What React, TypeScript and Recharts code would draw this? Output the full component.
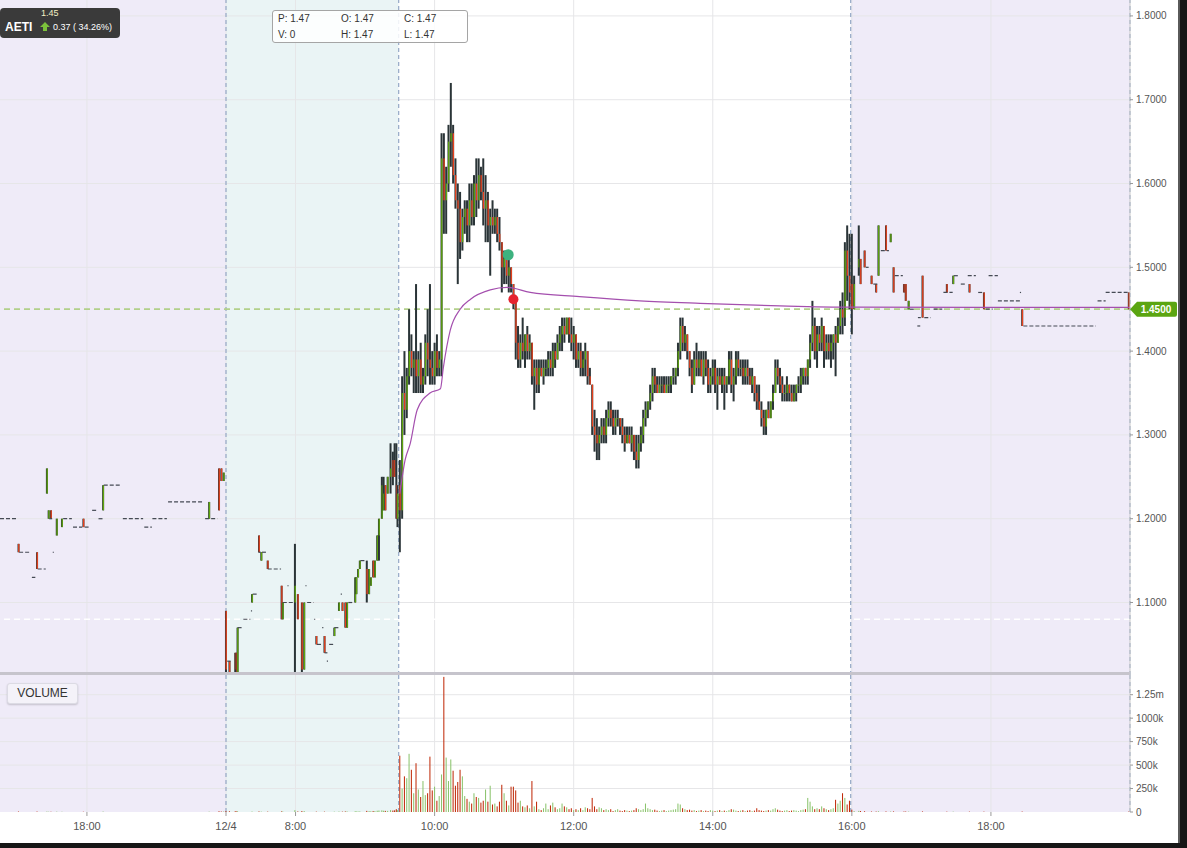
import React from 'react';
import { ComposedChart, Bar, Line, XAxis, YAxis, ReferenceArea, ReferenceLine, ReferenceDot } from 'recharts';

const FONT = '"Liberation Sans", Arial, Helvetica, sans-serif';

// chart minutes: 0 = 16:45 previous day, overnight gap removed (12/4 starts 7:00 at t=195)
const sessionStarts = [0, 195, 344, 734];
const sessionEnds = [195, 344, 734, 975];
const sessionFills = ['#efebf8', '#eaf4f5', '#ffffff', '#efebf8'];
const sessionDividers = [195, 344, 734, 975];

const timeTicks = [75, 195, 255, 375, 495, 615, 735, 855];
const timeLabels = ['18:00', '12/4', '8:00', '10:00', '12:00', '14:00', '16:00', '18:00'];
const priceTicks = [1.1, 1.2, 1.3, 1.4, 1.5, 1.6, 1.7, 1.8];
const volumeTicks = [0, 250, 500, 750, 1000, 1250];
const priceDomain = [1.0135, 1.819];
const volumeDomain = [0, 1460];
const prevClose = 1.08;
const lastPrice = 1.45;
const buyMarker = { t: 438.5, p: 1.515 };
const sellMarker = { t: 443, p: 1.462 };

// regular session 2-minute candles [open, high, low, close], from 9:30
const regularStart = 345;
const regularStep = 2;
const regularOHLC: number[][] = [
  [1.24,1.27,1.16,1.21],[1.21,1.37,1.20,1.35],[1.35,1.40,1.30,1.33],[1.33,1.38,1.32,1.37],[1.37,1.45,1.36,1.40],
  [1.40,1.42,1.37,1.38],[1.38,1.40,1.35,1.39],[1.39,1.48,1.35,1.37],[1.37,1.40,1.35,1.39],[1.39,1.41,1.35,1.36],
  [1.36,1.38,1.35,1.37],[1.37,1.42,1.36,1.41],[1.41,1.45,1.37,1.39],[1.39,1.48,1.36,1.38],[1.38,1.40,1.36,1.37],
  [1.37,1.41,1.36,1.40],[1.40,1.42,1.37,1.38],[1.38,1.40,1.37,1.39],[1.39,1.66,1.37,1.63],[1.63,1.66,1.54,1.58],
  [1.58,1.62,1.54,1.60],[1.60,1.67,1.59,1.65],[1.65,1.72,1.62,1.66],[1.66,1.67,1.60,1.61],[1.61,1.63,1.57,1.58],
  [1.58,1.60,1.48,1.57],[1.57,1.59,1.51,1.53],[1.53,1.57,1.52,1.56],[1.56,1.58,1.54,1.57],[1.57,1.58,1.53,1.55],
  [1.55,1.60,1.53,1.58],[1.58,1.60,1.55,1.56],[1.56,1.61,1.55,1.60],[1.60,1.63,1.56,1.58],[1.58,1.63,1.57,1.61],
  [1.61,1.62,1.58,1.59],[1.59,1.63,1.55,1.57],[1.57,1.61,1.53,1.58],[1.58,1.59,1.53,1.55],[1.55,1.57,1.49,1.56],
  [1.56,1.58,1.54,1.55],[1.55,1.57,1.54,1.56],[1.56,1.57,1.53,1.54],[1.54,1.56,1.52,1.53],[1.53,1.53,1.47,1.50],
  [1.50,1.52,1.48,1.51],[1.51,1.52,1.48,1.49],[1.49,1.51,1.47,1.50],[1.50,1.50,1.47,1.48],[1.48,1.48,1.45,1.46],
  [1.46,1.46,1.39,1.41],[1.41,1.43,1.38,1.39],[1.39,1.42,1.38,1.41],[1.41,1.44,1.39,1.40],[1.40,1.42,1.38,1.42],
  [1.42,1.43,1.39,1.40],[1.40,1.42,1.39,1.41],[1.41,1.41,1.36,1.37],[1.37,1.39,1.33,1.38],[1.38,1.39,1.35,1.36],
  [1.36,1.39,1.35,1.38],[1.38,1.39,1.37,1.37],[1.37,1.39,1.36,1.38],[1.38,1.39,1.37,1.38],[1.38,1.40,1.37,1.39],
  [1.39,1.40,1.37,1.38],[1.38,1.41,1.37,1.40],[1.40,1.41,1.38,1.39],[1.39,1.42,1.39,1.41],[1.41,1.43,1.40,1.42],
  [1.42,1.44,1.40,1.43],[1.43,1.44,1.41,1.42],[1.42,1.44,1.42,1.44],[1.44,1.44,1.41,1.42],[1.42,1.44,1.40,1.41],
  [1.41,1.43,1.39,1.42],[1.42,1.42,1.38,1.39],[1.39,1.41,1.38,1.40],[1.40,1.41,1.37,1.38],[1.38,1.40,1.37,1.39],
  [1.39,1.41,1.37,1.40],[1.40,1.40,1.36,1.37],[1.37,1.38,1.36,1.36],[1.36,1.36,1.30,1.31],[1.31,1.33,1.28,1.30],
  [1.30,1.32,1.27,1.29],[1.29,1.31,1.27,1.30],[1.30,1.32,1.29,1.31],[1.31,1.32,1.29,1.30],[1.30,1.33,1.29,1.32],
  [1.32,1.34,1.31,1.33],[1.33,1.34,1.31,1.32],[1.32,1.33,1.30,1.31],[1.31,1.33,1.30,1.32],[1.32,1.33,1.31,1.32],
  [1.32,1.32,1.30,1.31],[1.31,1.32,1.29,1.30],[1.30,1.31,1.28,1.29],[1.29,1.31,1.29,1.30],[1.30,1.31,1.29,1.29],
  [1.29,1.31,1.28,1.30],[1.30,1.30,1.27,1.28],[1.28,1.30,1.26,1.27],[1.27,1.30,1.26,1.29],[1.29,1.31,1.28,1.30],
  [1.30,1.33,1.29,1.32],[1.32,1.34,1.31,1.33],[1.33,1.34,1.32,1.34],[1.34,1.36,1.33,1.35],[1.35,1.38,1.34,1.37],
  [1.37,1.38,1.35,1.36],[1.36,1.37,1.35,1.35],[1.35,1.37,1.35,1.36],[1.36,1.37,1.35,1.36],[1.36,1.37,1.35,1.35],
  [1.35,1.37,1.35,1.36],[1.36,1.37,1.35,1.36],[1.36,1.37,1.35,1.37],[1.37,1.38,1.36,1.37],[1.37,1.38,1.36,1.38],
  [1.38,1.41,1.37,1.40],[1.40,1.44,1.39,1.43],[1.43,1.44,1.40,1.41],[1.41,1.43,1.40,1.42],[1.42,1.42,1.39,1.40],
  [1.40,1.40,1.37,1.38],[1.38,1.39,1.35,1.36],[1.36,1.40,1.36,1.39],[1.39,1.41,1.37,1.38],[1.38,1.40,1.37,1.39],
  [1.39,1.40,1.37,1.37],[1.37,1.40,1.36,1.39],[1.39,1.40,1.37,1.38],[1.38,1.39,1.35,1.36],[1.36,1.38,1.35,1.37],
  [1.37,1.39,1.36,1.38],[1.38,1.39,1.35,1.36],[1.36,1.38,1.33,1.37],[1.37,1.38,1.36,1.36],[1.36,1.38,1.35,1.37],
  [1.37,1.38,1.33,1.36],[1.36,1.37,1.35,1.37],[1.37,1.40,1.36,1.39],[1.39,1.40,1.35,1.36],[1.36,1.38,1.34,1.37],
  [1.37,1.40,1.36,1.39],[1.39,1.40,1.37,1.38],[1.38,1.39,1.37,1.38],[1.38,1.39,1.36,1.37],[1.37,1.39,1.36,1.38],
  [1.38,1.39,1.36,1.37],[1.37,1.38,1.36,1.36],[1.36,1.38,1.35,1.37],[1.37,1.37,1.34,1.35],[1.35,1.36,1.33,1.34],
  [1.34,1.36,1.33,1.33],[1.33,1.34,1.31,1.32],[1.32,1.33,1.30,1.31],[1.31,1.33,1.30,1.33],[1.33,1.34,1.32,1.32],
  [1.32,1.34,1.32,1.34],[1.34,1.36,1.33,1.35],[1.35,1.39,1.35,1.38],[1.38,1.39,1.36,1.37],[1.37,1.38,1.35,1.36],
  [1.36,1.37,1.34,1.35],[1.35,1.36,1.34,1.35],[1.35,1.37,1.34,1.36],[1.36,1.36,1.34,1.35],[1.35,1.36,1.34,1.34],
  [1.34,1.36,1.34,1.35],[1.35,1.36,1.34,1.36],[1.36,1.37,1.35,1.36],[1.36,1.38,1.35,1.37],[1.37,1.38,1.36,1.38],
  [1.38,1.38,1.36,1.37],[1.37,1.39,1.36,1.39],[1.39,1.42,1.38,1.41],[1.41,1.46,1.40,1.43],[1.43,1.44,1.39,1.40],
  [1.40,1.43,1.38,1.42],[1.42,1.43,1.40,1.41],[1.41,1.44,1.40,1.43],[1.43,1.43,1.38,1.40],[1.40,1.42,1.39,1.41],
  [1.41,1.42,1.39,1.40],[1.40,1.42,1.38,1.41],[1.41,1.42,1.39,1.42],[1.42,1.43,1.37,1.41],[1.41,1.44,1.41,1.43],
  [1.43,1.46,1.42,1.45],[1.45,1.47,1.42,1.44],[1.44,1.53,1.43,1.52],[1.52,1.55,1.46,1.49],[1.49,1.54,1.45,1.47],
];

// regular session volume per candle, thousands of shares
const regularVolume: number[] = [
  600,250,380,360,620,450,200,520,240,160,330,180,200,590,230,270,120,170,400,1440,
  580,330,560,440,280,320,450,380,170,140,110,90,200,160,150,100,120,240,110,280,
  80,90,60,110,290,200,120,70,270,270,230,100,120,60,50,70,40,330,60,110,
  30,20,40,90,30,70,100,50,30,40,90,60,50,30,40,20,30,20,40,20,
  50,40,30,150,60,30,50,40,20,30,20,30,10,20,30,15,10,20,15,10,
  15,20,40,30,20,30,90,40,30,20,25,15,10,15,20,10,15,20,25,30,
  90,80,40,30,20,25,15,20,10,15,20,10,15,10,20,15,10,15,20,10,
  15,10,20,30,25,15,10,15,20,10,15,20,10,15,40,20,15,10,15,20,
  15,30,40,25,15,10,15,20,10,15,20,15,10,20,25,30,150,110,60,30,
  40,30,60,40,30,20,30,40,130,90,120,200,150,80,120,
];

// extended-hours candles [t, open, high, low, close, volume(k)]
const extendedCandles: number[][] = [
  [16,1.17,1.17,1.16,1.16,5],[32,1.16,1.16,1.14,1.14,5],[40.5,1.23,1.26,1.23,1.26,5],[42,1.20,1.21,1.20,1.21,3],
  [44,1.21,1.21,1.20,1.20,3],[49,1.18,1.20,1.18,1.20,4],[53.5,1.19,1.20,1.19,1.20,3],[72,1.20,1.20,1.19,1.19,3],
  [89,1.21,1.24,1.21,1.24,5],[180.5,1.20,1.22,1.20,1.22,4],[189,1.26,1.26,1.21,1.21,8],[191,1.26,1.26,1.245,1.245,5],
  [193,1.245,1.255,1.245,1.255,5],
  [195,1.09,1.09,1.015,1.02,10],[198,1.03,1.03,1.015,1.015,8],[203,1.04,1.04,1.015,1.02,8],[204,1.04,1.04,1.015,1.015,6],
  [205,1.015,1.07,1.015,1.07,8],[217.5,1.10,1.11,1.10,1.11,5],[223.5,1.18,1.18,1.16,1.16,6],[225.5,1.15,1.16,1.15,1.16,4],
  [231,1.15,1.15,1.14,1.14,4],[243,1.12,1.12,1.08,1.08,6],[244,1.08,1.10,1.08,1.10,5],[254.5,1.10,1.17,1.015,1.12,20],
  [257,1.11,1.11,1.08,1.08,6],[260.5,1.10,1.10,1.015,1.02,10],[262.5,1.02,1.10,1.02,1.10,10],[273,1.06,1.06,1.05,1.05,4],
  [280,1.06,1.06,1.04,1.04,4],[288.5,1.06,1.07,1.06,1.07,4],[292.5,1.09,1.10,1.09,1.10,5],[295.5,1.10,1.10,1.09,1.09,4],
  [298,1.10,1.10,1.07,1.07,6],[299.5,1.07,1.10,1.07,1.10,6],[306.5,1.10,1.13,1.10,1.13,8],[307.5,1.11,1.13,1.11,1.13,6],
  [309,1.13,1.14,1.13,1.14,6],[310.5,1.14,1.15,1.14,1.15,6],[316.5,1.14,1.15,1.10,1.11,12],[318.5,1.11,1.14,1.11,1.14,10],
  [320,1.12,1.13,1.12,1.13,8],[322,1.15,1.15,1.13,1.13,10],[323.5,1.13,1.15,1.13,1.15,10],[325.5,1.15,1.18,1.15,1.18,14],
  [327,1.18,1.20,1.15,1.20,16],[329.5,1.20,1.25,1.20,1.24,18],[331,1.21,1.25,1.21,1.23,14],[332.5,1.24,1.24,1.21,1.21,12],
  [334.5,1.23,1.25,1.23,1.25,12],[337,1.25,1.29,1.23,1.26,20],[339,1.27,1.28,1.24,1.25,16],[340.5,1.27,1.29,1.25,1.25,18],
  [342,1.24,1.29,1.20,1.20,30],[343,1.20,1.24,1.19,1.23,20],
  [735,1.48,1.54,1.42,1.45,25],[737,1.45,1.49,1.45,1.48,10],[741,1.50,1.55,1.49,1.51,12],[742.5,1.51,1.51,1.48,1.48,10],
  [746,1.52,1.52,1.50,1.50,8],[752,1.49,1.49,1.48,1.48,5],[756,1.48,1.48,1.47,1.47,5],[758,1.49,1.55,1.49,1.55,8],
  [764.5,1.55,1.55,1.52,1.52,6],[768.5,1.53,1.54,1.53,1.54,5],[771,1.50,1.50,1.47,1.47,6],[780,1.48,1.48,1.47,1.47,5],
  [781.5,1.48,1.48,1.46,1.46,5],[784,1.45,1.46,1.45,1.46,4],[796,1.49,1.49,1.44,1.44,6],[817,1.48,1.48,1.47,1.47,4],
  [822.5,1.48,1.49,1.48,1.49,4],[836.5,1.48,1.48,1.47,1.47,4],[849,1.47,1.47,1.45,1.45,4],[882,1.45,1.45,1.43,1.43,5],
  [974,1.47,1.47,1.45,1.45,5],
];

// unchanged-price runs [tStart, tEnd, price]
const flatRuns: number[][] = [
  [0,15.5,1.20],[16.5,25.5,1.16],[27.5,30.5,1.13],[32.5,39.5,1.14],[45.5,46.5,1.16],[42.5,45,1.20],[54.5,62,1.20],
  [63,71,1.19],[73,78,1.19],[79.5,84.5,1.21],[85,89,1.20],[89.5,105,1.24],[106,123.5,1.20],[124.5,131,1.19],
  [131.5,144,1.20],[145,175.5,1.22],[177,187.5,1.20],
  [196,199,1.03],[205,209,1.07],[210,216,1.08],[216.5,217.5,1.09],[218,222,1.11],[223,225,1.16],[226,230.5,1.16],
  [231,242.5,1.14],[244,253,1.10],[248,249,1.12],[263.5,264.5,1.12],[265,270.5,1.10],[271,272,1.08],[273.5,278,1.05],
  [278,279,1.07],[280,282.5,1.04],[282,283,1.03],[284,287.5,1.05],[288.5,292,1.07],[294,295,1.11],[300.5,305,1.10],
  [311,315,1.15],
  [747,749.5,1.50],[753.5,757,1.48],[760,767,1.52],[772,779,1.49],[785,790,1.45],[792,794.5,1.44],[791.5,794,1.43],
  [797.5,803,1.44],[805.5,813,1.45],[814,822,1.47],[823,827,1.49],[829,834,1.48],[835,842,1.49],[844,849,1.47],
  [850.5,856.5,1.45],[853,861,1.49],[861,880.5,1.46],[880,881,1.47],[883,945.5,1.43],[947,954,1.46],[954,973.5,1.47],
];

// VWAP readings [t, price]
const vwapPoints: number[][] = [
  [345,1.23],[349.5,1.27],[354,1.29],[360,1.33],[371,1.35],[380,1.355],[382.5,1.38],[388.5,1.425],[397,1.45],
  [406,1.462],[423,1.473],[437.5,1.476],[457.5,1.47],[500,1.465],[552,1.46],[604,1.457],[673,1.454],[734,1.4525],[975,1.4522],
];

const candles = [
  ...extendedCandles.map(([t, o, h, l, c, v]) => ({ t, o, h, l, c, v })),
  ...regularOHLC.map(([o, h, l, c], i) => ({ t: regularStart + i * regularStep, o, h, l, c, v: regularVolume[i] })),
].sort((a, b) => a.t - b.t);

const vwapData = vwapPoints.map(([t, p]) => ({ t, p }));

const WICK = '#2a3437';
const UP = '#5fa60c';
const DOWN = '#e8401c';
const VOL_UP = '#8cc46e';
const VOL_DOWN = '#c12d0c';
const GRID = '#e6e6e8';
const DIVIDER = '#94a7c6';

const CandleShape = (props: any) => {
  const { x, y, width, height, payload } = props;
  if (!payload || x == null || y == null) return null;
  const top = Math.min(y, y + height);
  const hh = Math.abs(height);
  const cx = x + width / 2;
  const span = payload.h - payload.l;
  const k = span > 0 ? hh / span : 0;
  const yo = top + (payload.h - payload.o) * k;
  const yc = top + (payload.h - payload.c) * k;
  const bodyTop = Math.min(yo, yc);
  const bodyH = Math.max(Math.abs(yc - yo), 1);
  const up = payload.c >= payload.o;
  return (
    <g>
      <rect x={cx - 1} y={top} width={2} height={Math.max(hh, 1)} fill={WICK} />
      <rect x={cx - 0.4} y={bodyTop} width={1.3} height={bodyH} fill={up ? UP : DOWN} />
    </g>
  );
};

const VolumeShape = (props: any) => {
  const { x, y, width, height, payload } = props;
  if (!payload || !height) return null;
  const top = Math.min(y, y + height);
  return <rect x={x} y={top} width={width} height={Math.abs(height)} fill={payload.c >= payload.o ? VOL_UP : VOL_DOWN} />;
};

const PriceTag = (props: any) => {
  const { cx, cy } = props;
  if (cx == null || cy == null) return null;
  const d = `M${cx},${cy} L${cx + 7},${cy - 7.5} L${cx + 45},${cy - 7.5} Q${cx + 47},${cy - 7.5} ${cx + 47},${cy - 5.5} L${cx + 47},${cy + 5.5} Q${cx + 47},${cy + 7.5} ${cx + 45},${cy + 7.5} L${cx + 7},${cy + 7.5} Z`;
  return (
    <g>
      <path d={d} fill="#5ba511" />
      <text x={cx + 26} y={cy + 3.5} textAnchor="middle" fill="#ffffff" fontSize={10} fontWeight="bold" fontFamily={FONT}>
        {lastPrice.toFixed(4)}
      </text>
    </g>
  );
};

const tickStyle = { fontSize: 10, fill: '#555', fontFamily: FONT };

export default function App() {
  return (
    <div style={{ position: 'absolute', left: 0, top: 0, width: 1187, height: 848, background: '#161616', fontFamily: FONT }}>
      <div style={{ position: 'absolute', left: 0, top: 0, width: 1178, height: 843, background: '#ffffff', borderRight: '2px solid #5a5a5a' }}>
        <div style={{ position: 'absolute', left: 0, top: 0 }}>
          <ComposedChart width={1180} height={675} data={candles} margin={{ top: 0, right: 0, bottom: 0, left: 0 }}>
            <XAxis dataKey="t" type="number" domain={[0, 975]} hide allowDataOverflow />
            <YAxis
              orientation="right"
              type="number"
              domain={priceDomain}
              ticks={priceTicks}
              allowDataOverflow
              width={50}
              tickFormatter={(v: number) => v.toFixed(4)}
              tick={tickStyle}
              tickSize={3}
              tickMargin={3}
              axisLine={{ stroke: '#c8c8c8' }}
              tickLine={{ stroke: '#999' }}
            />
            {sessionStarts.map((s, i) => (
              <ReferenceArea key={'bg' + i} x1={s} x2={sessionEnds[i]} fill={sessionFills[i]} fillOpacity={1} stroke="none" zIndex={-300} />
            ))}
            {priceTicks.map((p) => (
              <ReferenceLine key={'gy' + p} y={p} stroke={GRID} strokeWidth={1} zIndex={-250} />
            ))}
            {timeTicks.map((t) => (
              <ReferenceLine key={'gx' + t} x={t} stroke={GRID} strokeWidth={1} zIndex={-250} />
            ))}
            <ReferenceLine y={prevClose} stroke="#ffffff" strokeDasharray="6 4" strokeWidth={1.5} zIndex={-200} />
            {sessionDividers.map((t) => (
              <ReferenceLine key={'dv' + t} x={t} stroke={DIVIDER} strokeDasharray="4 3" strokeWidth={1.2} zIndex={-150} />
            ))}
            <ReferenceLine y={lastPrice} stroke="#b2d08a" strokeDasharray="6 4" strokeWidth={1.8} zIndex={-100} />
            {flatRuns.map(([t0, t1, p], i) => (
              <ReferenceLine
                key={'fl' + i}
                segment={[{ x: t0, y: p }, { x: t1, y: p }]}
                stroke="#454a54"
                strokeDasharray="4 2"
                strokeWidth={1.2}
              />
            ))}
            <Bar dataKey={(d: any) => [d.l, d.h]} barSize={2} shape={CandleShape} isAnimationActive={false} />
            <Line data={vwapData} dataKey="p" type="monotone" stroke="#a44fae" strokeWidth={1.2} dot={false} activeDot={false} isAnimationActive={false} />
            <ReferenceDot x={buyMarker.t} y={buyMarker.p} r={5.5} fill="#3db27f" stroke="none" />
            <ReferenceDot x={sellMarker.t} y={sellMarker.p} r={5} fill="#e5232f" stroke="none" />
            <ReferenceDot x={975} y={lastPrice} r={1} shape={PriceTag} />
          </ComposedChart>
        </div>
        <div style={{ position: 'absolute', left: 0, top: 675 }}>
          <ComposedChart width={1180} height={169} data={candles} margin={{ top: 0, right: 0, bottom: 0, left: 0 }}>
            <XAxis
              dataKey="t"
              type="number"
              domain={[0, 975]}
              ticks={timeTicks}
              interval={0}
              allowDataOverflow
              height={32}
              axisLine={false}
              tickSize={4}
              tickMargin={6}
              tickLine={{ stroke: '#999' }}
              tick={{ fontSize: 11, fill: '#555', fontFamily: FONT }}
              tickFormatter={(v: number) => timeLabels[timeTicks.indexOf(v)] ?? ''}
            />
            <YAxis
              orientation="right"
              type="number"
              domain={volumeDomain}
              ticks={volumeTicks}
              allowDataOverflow
              width={50}
              tick={tickStyle}
              tickSize={3}
              tickMargin={3}
              axisLine={{ stroke: '#c8c8c8' }}
              tickLine={{ stroke: '#999' }}
              tickFormatter={(v: number) => (v === 0 ? '0' : v >= 1250 ? `${v / 1000}m` : `${v}k`)}
            />
            {sessionStarts.map((s, i) => (
              <ReferenceArea key={'vbg' + i} x1={s} x2={sessionEnds[i]} fill={sessionFills[i]} fillOpacity={1} stroke="none" zIndex={-300} />
            ))}
            {volumeTicks.slice(1).map((v) => (
              <ReferenceLine key={'vgy' + v} y={v} stroke={GRID} strokeWidth={1} zIndex={-250} />
            ))}
            {timeTicks.map((t) => (
              <ReferenceLine key={'vgx' + t} x={t} stroke={GRID} strokeWidth={1} zIndex={-250} />
            ))}
            {sessionDividers.map((t) => (
              <ReferenceLine key={'vdv' + t} x={t} stroke={DIVIDER} strokeDasharray="4 3" strokeWidth={1.2} zIndex={-150} />
            ))}
            <Bar dataKey="v" barSize={2} shape={VolumeShape} isAnimationActive={false} />
          </ComposedChart>
        </div>
        <div style={{ position: 'absolute', left: 0, top: 672, width: 1130, height: 3, background: '#c6c4cc' }} />
        <div
          style={{
            position: 'absolute', left: 7, top: 683, width: 69, height: 19, background: '#f4f2f9', border: '1px solid #dcdbe4',
            borderRadius: 3, boxShadow: '0 1px 2px rgba(0,0,0,0.18)', fontSize: 12, color: '#333', lineHeight: '19px', textAlign: 'center',
          }}
        >
          VOLUME
        </div>
        <div style={{ position: 'absolute', left: 0, top: 8, width: 120, height: 30, background: '#3a3a3a', borderRadius: 4 }}>
          <div style={{ position: 'absolute', left: 41, top: 0, fontSize: 9, color: '#f3efc4', lineHeight: '11px' }}>1.45</div>
          <div style={{ position: 'absolute', left: 5, top: 12, fontSize: 12, fontWeight: 'bold', color: '#fff', lineHeight: '14px' }}>AETI</div>
          <svg style={{ position: 'absolute', left: 40, top: 14 }} width={10} height={10}>
            <path d="M5,0 L10,5 L7,5 L7,9 L3,9 L3,5 L0,5 Z" fill="#7cc23b" />
          </svg>
          <div style={{ position: 'absolute', left: 53, top: 13, fontSize: 9, color: '#fff', lineHeight: '12px', whiteSpace: 'nowrap' }}>0.37 ( 34.26%)</div>
        </div>
        <div
          style={{
            position: 'absolute', left: 272, top: 10, width: 194, height: 31, border: '1px solid #a5a5a5', borderRadius: 3,
            background: 'rgba(255,255,255,0.85)', fontSize: 10, color: '#333',
          }}
        >
          <div style={{ position: 'absolute', left: 5, top: 2 }}>P: 1.47</div>
          <div style={{ position: 'absolute', left: 68, top: 2 }}>O: 1.47</div>
          <div style={{ position: 'absolute', left: 131, top: 2 }}>C: 1.47</div>
          <div style={{ position: 'absolute', left: 5, top: 18 }}>V: 0</div>
          <div style={{ position: 'absolute', left: 68, top: 18 }}>H: 1.47</div>
          <div style={{ position: 'absolute', left: 131, top: 18 }}>L: 1.47</div>
        </div>
      </div>
    </div>
  );
}
